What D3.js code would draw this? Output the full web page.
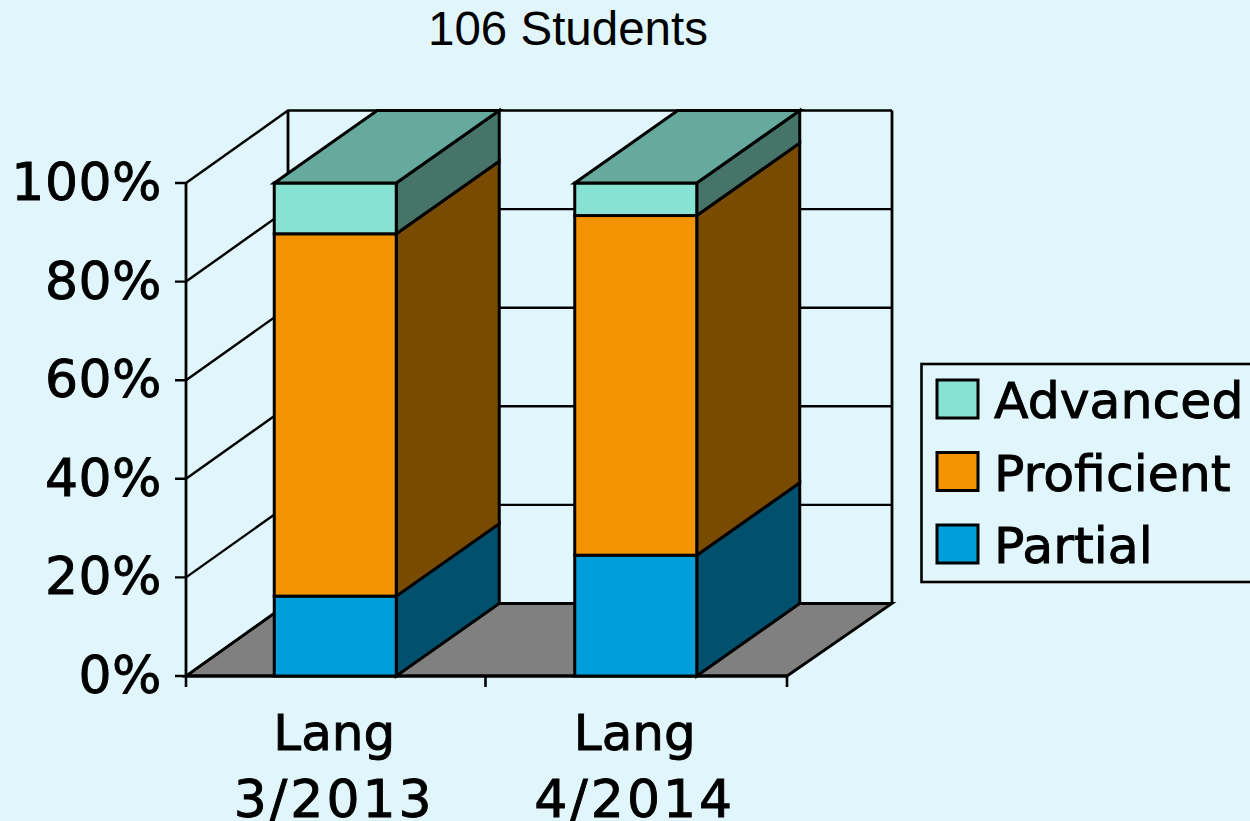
<!DOCTYPE html>
<html>
<head>
<meta charset="utf-8">
<title>106 Students</title>
<script src="https://cdn.jsdelivr.net/npm/d3@7/dist/d3.min.js"></script>
<style>
html, body { margin: 0; padding: 0; background: #E1F6FA; overflow: hidden; }
svg { display: block; }
</style>
</head>
<body>
<svg id="chart" width="1250" height="821"></svg>
<script>
// Stacked percentages per assessment, listed bottom to top
const categories = ["Lang 3/2013", "Lang 4/2014"];
const categoryLines = [["Lang", "3/2013"], ["Lang", "4/2014"]];
const seriesNames = ["Partial", "Proficient", "Advanced"];
const partial = [16.2, 24.5];
const proficient = [73.5, 68.9];
const advanced = [10.3, 6.6];
const yTicks = [0, 20, 40, 60, 80, 100];
const legendOrder = ["Advanced", "Proficient", "Partial"];

const frontColor = { Partial: "#009FDB", Proficient: "#F49300", Advanced: "#88E2D3" };
const sideColor = { Partial: "#00506E", Proficient: "#784B00", Advanced: "#467469" };
const topColor = "#66AA9E";
const floorColor = "#808080";
const inkColor = "#000";
const labelFont = "'DejaVu Sans', sans-serif";
const labelWeight = 0.9;

const svg = d3.select("#chart");

// Oblique projection: the back wall sits up and to the right of the front plane
const barDepthX = 103, depthY = 72.5;
const x0 = 186, x1 = 787, backLeft = 288, backRight = 892;
const x = d3.scaleBand().domain(categories).range([185, 786]).paddingInner(0.594).paddingOuter(0.297);
const y = d3.scaleLinear().domain([0, 100]).range([676, 183]);
const line = d3.line();

const rows = categories.map((c, i) => ({ c, values: [partial[i], proficient[i], advanced[i]] }));
const stack = d3.stack().keys([0, 1, 2]).value((d, k) => d.values[k])(rows);

// Title
svg.append("text").attr("x", 568).attr("y", 45).attr("text-anchor", "middle")
  .attr("font-family", "'Liberation Sans', Arial, sans-serif").attr("font-size", 47.5)
  .attr("fill", inkColor).text("106 Students");

// Floor and walls
const walls = svg.append("g").attr("stroke", inkColor).attr("fill", "none");
const base = y(0), ceiling = y(100);
walls.append("path")
  .attr("d", line([[x0, base], [x1, base], [backRight, base - depthY], [backLeft, base - depthY]]) + "Z")
  .attr("fill", floorColor).attr("stroke-width", 2.8);
yTicks.forEach(t => {
  const ty = y(t);
  walls.append("path").attr("stroke-width", 2.4)
    .attr("d", line([[x0 - 11, ty], [x0, ty], [backLeft, ty - depthY], [backRight, ty - depthY]]));
});
walls.append("path").attr("stroke-width", 2.8)
  .attr("d", line([[backLeft, ceiling - depthY], [backLeft, base - depthY]]));
walls.append("path").attr("stroke-width", 2.8)
  .attr("d", line([[backRight, ceiling - depthY], [backRight, base - depthY]]));
walls.append("path").attr("stroke-width", 2.8).attr("d", line([[x0, ceiling], [x0, base]]));
walls.append("path").attr("stroke-width", 2.8).attr("d", line([[x0, base], [x1, base]]));
[x0, x(categories[1]) - x.step() * x.paddingInner() / 2, x1].forEach(tx => {
  walls.append("path").attr("stroke-width", 2.6).attr("d", line([[tx, base], [tx, base + 11]]));
});

// Bars: side face and front face per segment, then the lid of the stack
const bars = svg.append("g").attr("stroke", inkColor).attr("stroke-width", 3).attr("stroke-linejoin", "miter");
categories.forEach((c, i) => {
  const left = x(c), right = left + x.bandwidth();
  stack.forEach((layer, k) => {
    const name = seriesNames[k];
    const [v0, v1] = layer[i];
    const yLow = y(v0), yHigh = y(v1);
    bars.append("path").attr("fill", sideColor[name])
      .attr("d", line([[right, yLow], [right + barDepthX, yLow - depthY], [right + barDepthX, yHigh - depthY], [right, yHigh]]) + "Z");
    bars.append("rect").attr("fill", frontColor[name])
      .attr("x", left).attr("y", yHigh).attr("width", right - left).attr("height", yLow - yHigh);
  });
  const topY = y(d3.sum(rows[i].values));
  bars.append("path").attr("fill", topColor)
    .attr("d", line([[left, topY], [right, topY], [right + barDepthX, topY - depthY], [left + barDepthX, topY - depthY]]) + "Z");
});

// Value axis labels
svg.append("g").attr("font-family", labelFont).attr("font-size", 52).attr("letter-spacing", 0.5)
  .attr("fill", inkColor).attr("stroke", inkColor).attr("stroke-width", labelWeight).attr("text-anchor", "end")
  .selectAll("text").data(yTicks).join("text")
  .attr("x", 162).attr("y", d => y(d) + 17).text(d => d + "%");

// Category labels
categories.forEach((c, i) => {
  const cx = x(c) + x.bandwidth() / 2 - 1;
  const label = svg.append("text").attr("font-family", labelFont)
    .attr("fill", inkColor).attr("stroke", inkColor).attr("stroke-width", labelWeight).attr("text-anchor", "middle");
  categoryLines[i].forEach((t, j) => label.append("tspan")
    .attr("x", cx).attr("y", 750 + j * 67)
    .attr("font-size", j ? 52 : 50)
    .attr("letter-spacing", j ? 3 : 0)
    .text(t));
});

// Legend
const legend = svg.append("g");
legend.append("rect").attr("x", 921.5).attr("y", 364).attr("width", 340).attr("height", 218)
  .attr("fill", "#E1F6FA").attr("stroke", inkColor).attr("stroke-width", 2.6);
const legendY = d3.scalePoint().domain(legendOrder).range([399, 544]);
legendOrder.forEach(name => {
  legend.append("rect").attr("x", 937).attr("y", legendY(name) - 19).attr("width", 41).attr("height", 38)
    .attr("fill", frontColor[name]).attr("stroke", inkColor).attr("stroke-width", 3);
  legend.append("text").attr("x", 994).attr("y", legendY(name) + 19)
    .attr("font-family", labelFont).attr("font-size", 50.5).attr("fill", inkColor)
    .attr("stroke", inkColor).attr("stroke-width", labelWeight).text(name);
});
</script>
</body>
</html>
